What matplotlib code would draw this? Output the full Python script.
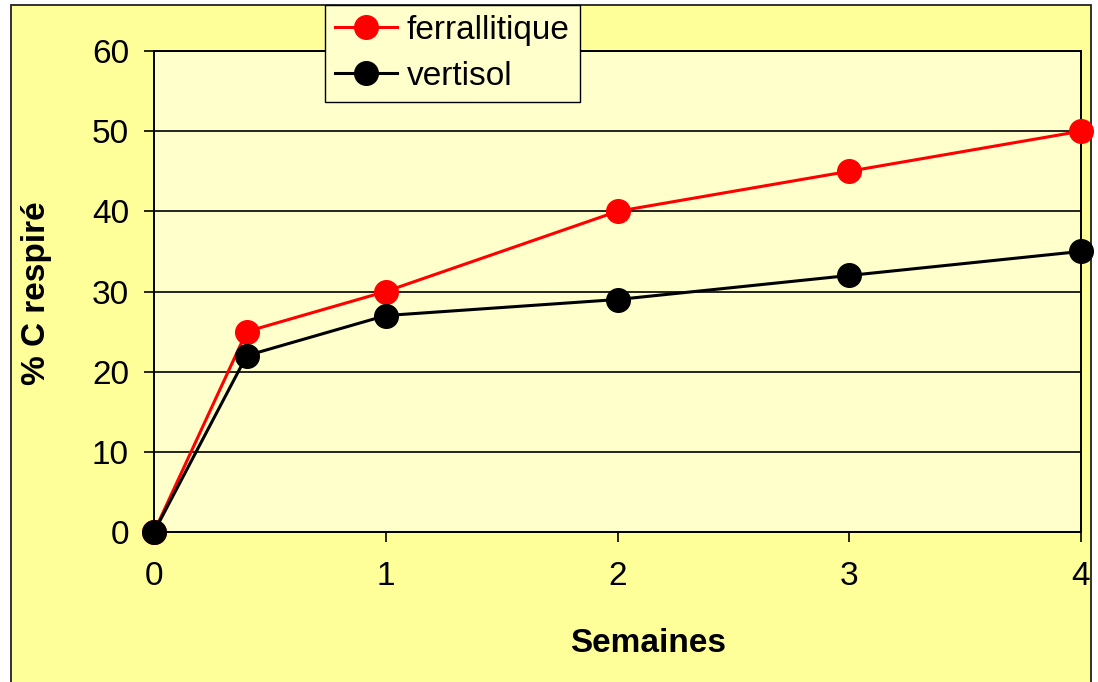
import matplotlib.pyplot as plt
from matplotlib.patches import Rectangle

# Respiration data (weeks vs % C respired)
semaines = [0, 0.4, 1, 2, 3, 4]
ferrallitique = [0, 25, 30, 40, 45, 50]
vertisol = [0, 22, 27, 29, 32, 35]
x_ticks = [0, 1, 2, 3, 4]
y_ticks = [0, 10, 20, 30, 40, 50, 60]

plt.rcParams['font.family'] = ['Liberation Sans', 'DejaVu Sans']
FS = 24

W, H = 1098, 682
fig = plt.figure(figsize=(W / 100, H / 100), dpi=100, facecolor='white')

# Outer chart area with its border
fig.patches.append(Rectangle((11 / W, -0.02), (1091 - 11) / W, 1 - 5 / H + 0.02,
                             transform=fig.transFigure, facecolor='#FFFF99',
                             edgecolor='#222222', linewidth=1.3, zorder=-5))

ax = fig.add_axes([154 / W, 1 - 532 / H, (1081 - 154) / W, (532 - 51) / H])
ax.set_zorder(2)
ax.set_facecolor('#FFFFCC')

ax.plot(semaines, ferrallitique, color='#FF0000', linewidth=2.2, marker='o',
        markersize=17, label='ferrallitique', clip_on=False, zorder=3)
ax.plot(semaines, vertisol, color='black', linewidth=2.2, marker='o',
        markersize=17, label='vertisol', clip_on=False, zorder=4)

ax.set_xlim(0, 4)
ax.set_ylim(0, 60)
ax.set_xticks(x_ticks)
ax.set_yticks(y_ticks)
ax.yaxis.grid(True, color='black', linewidth=1.2)
ax.set_axisbelow(True)
for s in ax.spines.values():
    s.set_linewidth(1.4)
ax.tick_params(axis='both', labelsize=FS, length=7, width=1.2, direction='out')
ax.tick_params(axis='y', pad=11)
ax.tick_params(axis='x', pad=14)

fig.text(648 / W, 1 - 644 / H, 'Semaines', fontsize=FS, fontweight='bold',
         ha='center', va='center')
fig.text(37 / W, 1 - 293 / H, '% C respiré', fontsize=FS, fontweight='bold',
         rotation=90, ha='center', va='center')

leg = fig.legend(loc='upper left', bbox_to_anchor=(325 / W, 1 - 5 / H),
                 bbox_transform=fig.transFigure, fontsize=FS, frameon=True,
                 fancybox=False, edgecolor='black', facecolor='#FFFFCC',
                 framealpha=1, borderaxespad=0, handlelength=1.85,
                 handletextpad=0.3, borderpad=0.3, labelspacing=0.45,
                 markerscale=1.0)
leg.set_zorder(10)
leg.get_frame().set_linewidth(1.0)

fig.savefig('out.png', dpi=100)
